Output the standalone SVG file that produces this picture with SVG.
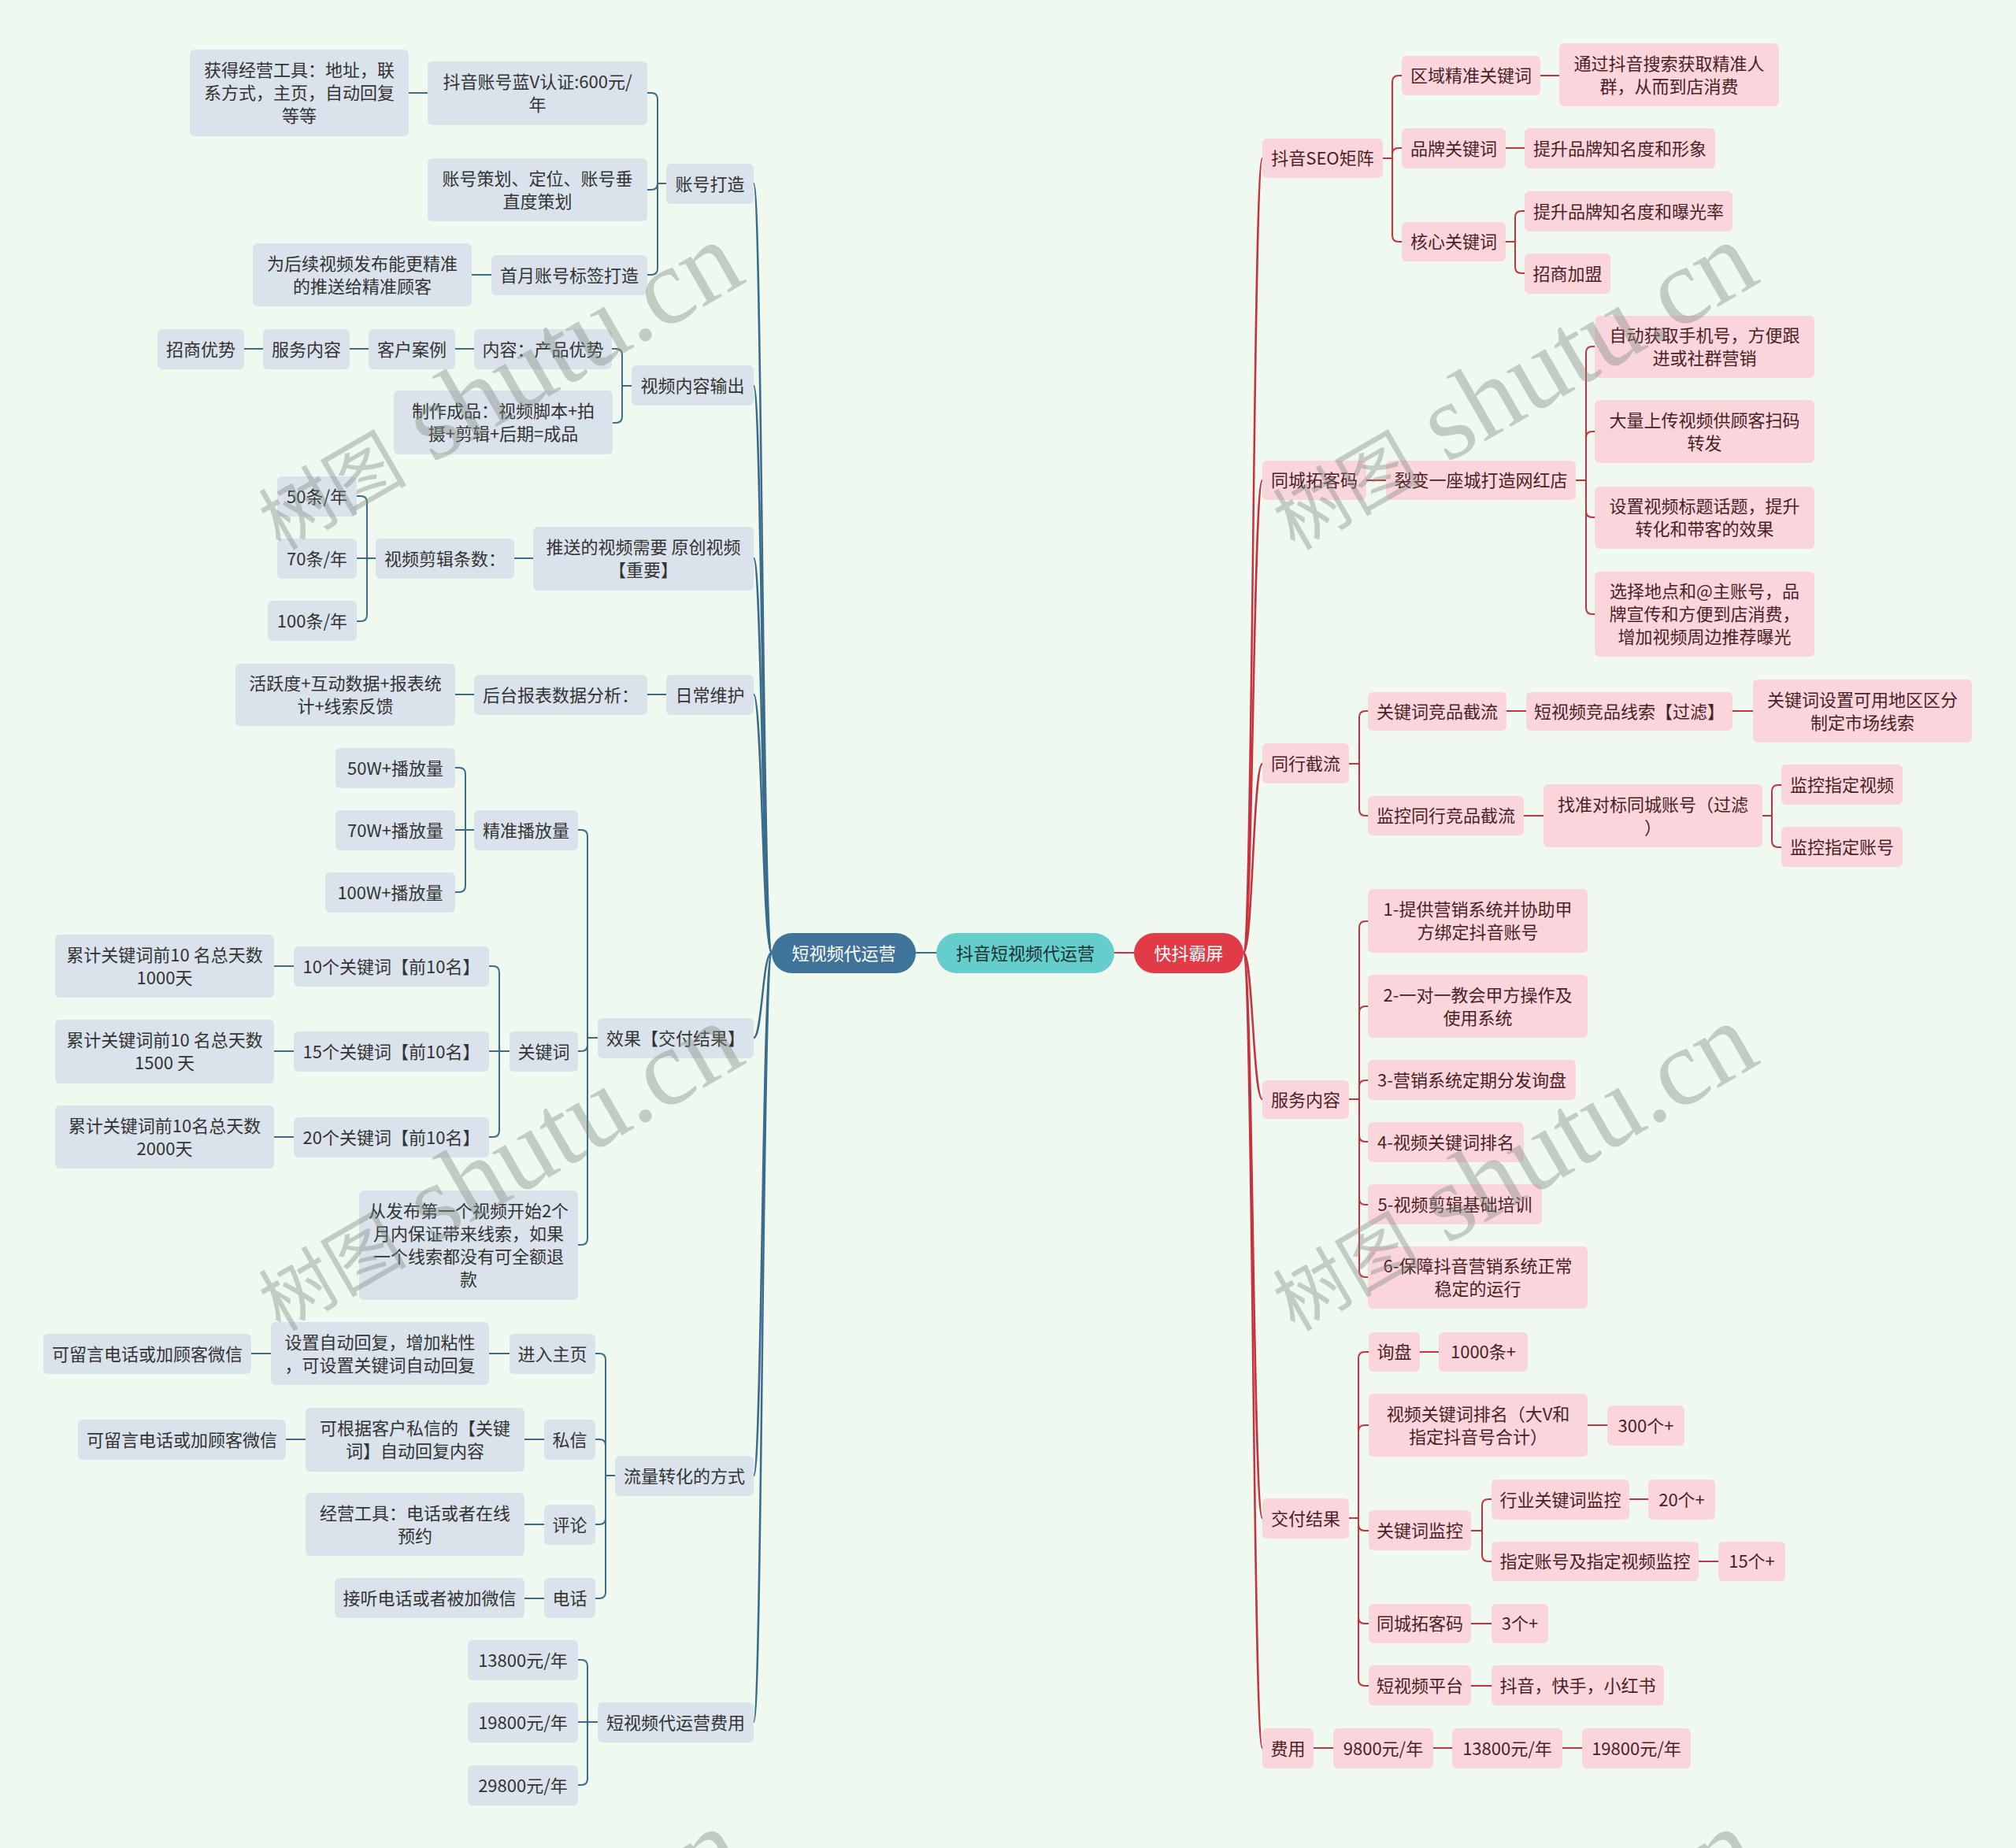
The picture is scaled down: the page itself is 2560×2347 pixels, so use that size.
<svg xmlns="http://www.w3.org/2000/svg" width="2560" height="2347" viewBox="0 0 2560 2347">
<style>
.bg{fill:#f0f9ef}
.nl rect{fill:#dae3eb}
.nr rect{fill:#fad6dc}
text{font-family:"Noto Sans CJK SC","Liberation Sans",sans-serif;font-size:22px;text-anchor:middle;dominant-baseline:central}
.nl text,.nr text,.cn text{transform:translate(0px,-2px)}
.nl text{fill:#333333}
.nr text{fill:#4a1f25}
.cl{fill:none;stroke:#3b6c8c;stroke-width:2}
.cr{fill:none;stroke:#c8323f;stroke-width:2}
.clm{fill:none;stroke:#3b6c8c;stroke-width:2.5}
.crm{fill:none;stroke:#c8323f;stroke-width:2.5}
.wm{fill:#7f8a80;opacity:0.4;text-anchor:start;dominant-baseline:alphabetic;font-family:"Liberation Serif","Noto Sans CJK SC",serif}
.wmc{font-size:94px}
.wml{font-size:138px}
</style>
<rect class="bg" x="0" y="0" width="2560" height="2347"/>

<g id="connectors">
<path class="cl" d="M1163,1210 H1189"/>
<path class="cr" d="M1415,1210 H1440"/>
<path class="clm" d="M980,1210 C968,1210 968,233 957,233"/>
<path class="clm" d="M980,1210 C968,1210 968,490 957,490"/>
<path class="clm" d="M980,1210 C968,1210 968,709 957,709"/>
<path class="clm" d="M980,1210 C968,1210 968,882 957,882"/>
<path class="clm" d="M980,1210 C968,1210 968,1318 957,1318"/>
<path class="clm" d="M980,1210 C968,1210 968,1874 957,1874"/>
<path class="clm" d="M980,1210 C968,1210 968,2187 957,2187"/>
<path class="crm" d="M1579,1210 C1591,1210 1591,201 1603,201"/>
<path class="crm" d="M1579,1210 C1591,1210 1591,610 1603,610"/>
<path class="crm" d="M1579,1210 C1591,1210 1591,970 1603,970"/>
<path class="crm" d="M1579,1210 C1591,1210 1591,1396 1603,1396"/>
<path class="crm" d="M1579,1210 C1591,1210 1591,1928 1603,1928"/>
<path class="crm" d="M1579,1210 C1591,1210 1591,2220 1603,2220"/>

<path class="cl" d="M846,233 H835 V126 Q835,118 827,118 H822"/>
<path class="cl" d="M846,233 H835 Q835,241 827,241 H822"/>
<path class="cl" d="M846,233 H835 V341 Q835,349 827,349 H822"/>
<path class="cl" d="M543,118 H519"/>
<path class="cl" d="M624,349 H599"/>
<path class="cl" d="M802,490 H790 V451 Q790,443 782,443 H777"/>
<path class="cl" d="M802,490 H790 V529 Q790,537 782,537 H778"/>
<path class="cl" d="M602,443 H578 M468,443 H444 M334,443 H310"/>
<path class="cl" d="M677,709 H653"/>
<path class="cl" d="M477,709 H466 V638 Q466,630 458,630 H453"/>
<path class="cl" d="M477,709 H453"/>
<path class="cl" d="M477,709 H466 V781 Q466,789 458,789 H453"/>
<path class="cl" d="M846,882 H822 M602,882 H578"/>
<path class="cl" d="M759,1318 H746 V1062 Q746,1054 738,1054 H734"/>
<path class="cl" d="M759,1318 H746 V1327 Q746,1335 738,1335 H734"/>
<path class="cl" d="M759,1318 H746 V1573 Q746,1581 738,1581 H734"/>
<path class="cl" d="M602,1054 H591 V983 Q591,975 583,975 H578"/>
<path class="cl" d="M602,1054 H578"/>
<path class="cl" d="M602,1054 H591 V1125 Q591,1133 583,1133 H578"/>
<path class="cl" d="M647,1335 H634 V1235 Q634,1227 626,1227 H621"/>
<path class="cl" d="M647,1335 H621"/>
<path class="cl" d="M647,1335 H634 V1436 Q634,1444 626,1444 H621"/>
<path class="cl" d="M373,1227 H348 M373,1335 H348 M373,1444 H348"/>
<path class="cl" d="M781,1874 H769 V1727 Q769,1719 761,1719 H756"/>
<path class="cl" d="M781,1874 H769 V1836 Q769,1828 761,1828 H756"/>
<path class="cl" d="M781,1874 H769 V1928 Q769,1936 761,1936 H756"/>
<path class="cl" d="M781,1874 H769 V2022 Q769,2030 761,2030 H756"/>
<path class="cl" d="M647,1719 H621 M344,1719 H319"/>
<path class="cl" d="M691,1828 H666 M388,1828 H363"/>
<path class="cl" d="M691,1936 H666"/>
<path class="cl" d="M691,2030 H666"/>
<path class="cl" d="M759,2187 H746 V2116 Q746,2108 738,2108 H734"/>
<path class="cl" d="M759,2187 H734"/>
<path class="cl" d="M759,2187 H746 V2259 Q746,2267 738,2267 H734"/>

<path class="cr" d="M1756,201 H1768 V104 Q1768,96 1776,96 H1780"/>
<path class="cr" d="M1756,201 H1768 V196 Q1768,188 1776,188 H1780"/>
<path class="cr" d="M1756,201 H1768 V299 Q1768,307 1776,307 H1780"/>
<path class="cr" d="M1956,96 H1980 M1912,188 H1936"/>
<path class="cr" d="M1912,307 H1924 V276 Q1924,268 1932,268 H1936"/>
<path class="cr" d="M1912,307 H1924 V339 Q1924,347 1932,347 H1936"/>
<path class="cr" d="M1735,610 H1760"/>
<path class="cr" d="M2001,610 H2014 V448 Q2014,440 2022,440 H2025"/>
<path class="cr" d="M2001,610 H2014 V556 Q2014,548 2022,548 H2025"/>
<path class="cr" d="M2001,610 H2014 V649 Q2014,657 2022,657 H2025"/>
<path class="cr" d="M2001,610 H2014 V772 Q2014,780 2022,780 H2025"/>
<path class="cr" d="M1713,970 H1726 V911 Q1726,903 1734,903 H1737"/>
<path class="cr" d="M1713,970 H1726 V1028 Q1726,1036 1734,1036 H1737"/>
<path class="cr" d="M1913,903 H1938 M2200,903 H2226 M1935,1036 H1960"/>
<path class="cr" d="M2238,1036 H2250 V1005 Q2250,997 2258,997 H2262"/>
<path class="cr" d="M2238,1036 H2250 V1068 Q2250,1076 2258,1076 H2262"/>
<path class="cr" d="M1713,1396 H1726 V1178 Q1726,1170 1734,1170 H1737"/>
<path class="cr" d="M1713,1396 H1726 V1286 Q1726,1278 1734,1278 H1737"/>
<path class="cr" d="M1713,1396 H1726 V1380 Q1726,1372 1734,1372 H1737"/>
<path class="cr" d="M1713,1396 H1726 V1442 Q1726,1450 1734,1450 H1737"/>
<path class="cr" d="M1713,1396 H1726 V1522 Q1726,1530 1734,1530 H1737"/>
<path class="cr" d="M1713,1396 H1726 V1614 Q1726,1622 1734,1622 H1737"/>
<path class="cr" d="M1713,1928 H1725 V1725 Q1725,1717 1733,1717 H1738"/>
<path class="cr" d="M1713,1928 H1725 V1818 Q1725,1810 1733,1810 H1738"/>
<path class="cr" d="M1713,1928 H1725 V1936 Q1725,1944 1733,1944 H1738"/>
<path class="cr" d="M1713,1928 H1725 V2054 Q1725,2062 1733,2062 H1738"/>
<path class="cr" d="M1713,1928 H1725 V2133 Q1725,2141 1733,2141 H1738"/>
<path class="cr" d="M1803,1717 H1827 M2016,1810 H2041"/>
<path class="cr" d="M1868,1944 H1882 V1912 Q1882,1904 1890,1904 H1894"/>
<path class="cr" d="M1868,1944 H1882 V1975 Q1882,1983 1890,1983 H1894"/>
<path class="cr" d="M2069,1904 H2093 M2157,1983 H2182 M1868,2062 H1894 M1868,2141 H1894"/>
<path class="cr" d="M1668,2220 H1693 M1820,2220 H1844 M1984,2220 H2009"/>
</g>

<g id="CL" class="cn"><rect x="980" y="1185" width="183" height="51" rx="25.5" fill="#3f7399"/><text x="1071.5" y="1210.5" fill="#ffffff">短视频代运营</text></g>
<g id="C0" class="cn"><rect x="1189" y="1185" width="226" height="51" rx="25.5" fill="#65cdcb"/><text x="1302" y="1210.5" fill="#1a3333">抖音短视频代运营</text></g>
<g id="CR" class="cn"><rect x="1440" y="1185" width="139" height="51" rx="25.5" fill="#e23b48"/><text x="1509.5" y="1210.5" fill="#ffffff">快抖霸屏</text></g>

<g id="L1" class="nl"><rect x="846" y="208" width="111" height="51" rx="6"/><text x="901.5" y="233.5">账号打造</text></g>
<g id="L1a" class="nl"><rect x="543" y="78" width="279" height="81" rx="6"/><text><tspan x="682.5" y="104">抖音账号蓝V认证:600元/</tspan><tspan x="682.5" y="133">年</tspan></text></g>
<g id="L1a1" class="nl"><rect x="241" y="63" width="278" height="110" rx="6"/><text><tspan x="380" y="89">获得经营工具：地址，联</tspan><tspan x="380" y="118">系方式，主页，自动回复</tspan><tspan x="380" y="147">等等</tspan></text></g>
<g id="L1b" class="nl"><rect x="543" y="201" width="279" height="80" rx="6"/><text><tspan x="682.5" y="226.5">账号策划、定位、账号垂</tspan><tspan x="682.5" y="255.5">直度策划</tspan></text></g>
<g id="L1c" class="nl"><rect x="624" y="324" width="198" height="51" rx="6"/><text x="723" y="349.5">首月账号标签打造</text></g>
<g id="L1c1" class="nl"><rect x="321" y="309" width="278" height="80" rx="6"/><text><tspan x="460" y="334.5">为后续视频发布能更精准</tspan><tspan x="460" y="363.5">的推送给精准顾客</tspan></text></g>
<g id="L2" class="nl"><rect x="802" y="464" width="155" height="51" rx="6"/><text x="879.5" y="489.5">视频内容输出</text></g>
<g id="L2a" class="nl"><rect x="602" y="418" width="175" height="51" rx="6"/><text x="689.5" y="443.5">内容：产品优势</text></g>
<g id="L2a1" class="nl"><rect x="468" y="418" width="110" height="51" rx="6"/><text x="523" y="443.5">客户案例</text></g>
<g id="L2a2" class="nl"><rect x="334" y="418" width="110" height="51" rx="6"/><text x="389" y="443.5">服务内容</text></g>
<g id="L2a3" class="nl"><rect x="200" y="418" width="110" height="51" rx="6"/><text x="255" y="443.5">招商优势</text></g>
<g id="L2b" class="nl"><rect x="500" y="496" width="278" height="81" rx="6"/><text><tspan x="639" y="522">制作成品：视频脚本+拍</tspan><tspan x="639" y="551">摄+剪辑+后期=成品</tspan></text></g>
<g id="L3" class="nl"><rect x="677" y="669" width="280" height="81" rx="6"/><text><tspan x="817" y="695">推送的视频需要 原创视频</tspan><tspan x="817" y="724">【重要】</tspan></text></g>
<g id="L3a" class="nl"><rect x="477" y="684" width="176" height="51" rx="6"/><text x="565" y="709.5">视频剪辑条数：</text></g>
<g id="L3a1" class="nl"><rect x="352" y="605" width="101" height="51" rx="6"/><text x="402.5" y="630.5">50条/年</text></g>
<g id="L3a2" class="nl"><rect x="352" y="684" width="101" height="51" rx="6"/><text x="402.5" y="709.5">70条/年</text></g>
<g id="L3a3" class="nl"><rect x="340" y="763" width="113" height="51" rx="6"/><text x="396.5" y="788.5">100条/年</text></g>
<g id="L4" class="nl"><rect x="846" y="857" width="111" height="51" rx="6"/><text x="901.5" y="882.5">日常维护</text></g>
<g id="L4a" class="nl"><rect x="602" y="857" width="220" height="51" rx="6"/><text x="712" y="882.5">后台报表数据分析：</text></g>
<g id="L4a1" class="nl"><rect x="299" y="843" width="279" height="79" rx="6"/><text><tspan x="438.5" y="868">活跃度+互动数据+报表统</tspan><tspan x="438.5" y="897">计+线索反馈</tspan></text></g>
<g id="L5" class="nl"><rect x="759" y="1293" width="198" height="51" rx="6"/><text x="858" y="1318.5">效果【交付结果】</text></g>
<g id="L5a" class="nl"><rect x="602" y="1029" width="132" height="51" rx="6"/><text x="668" y="1054.5">精准播放量</text></g>
<g id="L5a1" class="nl"><rect x="426" y="950" width="152" height="51" rx="6"/><text x="502" y="975.5">50W+播放量</text></g>
<g id="L5a2" class="nl"><rect x="426" y="1029" width="152" height="51" rx="6"/><text x="502" y="1054.5">70W+播放量</text></g>
<g id="L5a3" class="nl"><rect x="413" y="1108" width="165" height="51" rx="6"/><text x="495.5" y="1133.5">100W+播放量</text></g>
<g id="L5b" class="nl"><rect x="647" y="1310" width="87" height="51" rx="6"/><text x="690.5" y="1335.5">关键词</text></g>
<g id="L5b1" class="nl"><rect x="373" y="1202" width="248" height="51" rx="6"/><text x="497" y="1227.5">10个关键词【前10名】</text></g>
<g id="L5b1a" class="nl"><rect x="70" y="1187" width="278" height="80" rx="6"/><text><tspan x="209" y="1212.5">累计关键词前10 名总天数</tspan><tspan x="209" y="1241.5">1000天</tspan></text></g>
<g id="L5b2" class="nl"><rect x="373" y="1310" width="248" height="51" rx="6"/><text x="497" y="1335.5">15个关键词【前10名】</text></g>
<g id="L5b2a" class="nl"><rect x="70" y="1295" width="278" height="81" rx="6"/><text><tspan x="209" y="1321">累计关键词前10 名总天数</tspan><tspan x="209" y="1350">1500 天</tspan></text></g>
<g id="L5b3" class="nl"><rect x="373" y="1419" width="248" height="51" rx="6"/><text x="497" y="1444.5">20个关键词【前10名】</text></g>
<g id="L5b3a" class="nl"><rect x="70" y="1404" width="278" height="80" rx="6"/><text><tspan x="209" y="1429.5">累计关键词前10名总天数</tspan><tspan x="209" y="1458.5">2000天</tspan></text></g>
<g id="L5c" class="nl"><rect x="456" y="1512" width="278" height="139" rx="6"/><text><tspan x="595" y="1538">从发布第一个视频开始2个</tspan><tspan x="595" y="1567">月内保证带来线索，如果</tspan><tspan x="595" y="1596">一个线索都没有可全额退</tspan><tspan x="595" y="1625">款</tspan></text></g>
<g id="L6" class="nl"><rect x="781" y="1849" width="176" height="51" rx="6"/><text x="869" y="1874.5">流量转化的方式</text></g>
<g id="L6a" class="nl"><rect x="647" y="1694" width="109" height="51" rx="6"/><text x="701.5" y="1719.5">进入主页</text></g>
<g id="L6a1" class="nl"><rect x="344" y="1679" width="277" height="80" rx="6"/><text><tspan x="482.5" y="1704.5">设置自动回复，增加粘性</tspan><tspan x="482.5" y="1733.5">，可设置关键词自动回复</tspan></text></g>
<g id="L6a1a" class="nl"><rect x="55" y="1694" width="264" height="51" rx="6"/><text x="187" y="1719.5">可留言电话或加顾客微信</text></g>
<g id="L6b" class="nl"><rect x="691" y="1803" width="65" height="51" rx="6"/><text x="723.5" y="1828.5">私信</text></g>
<g id="L6b1" class="nl"><rect x="388" y="1788" width="278" height="81" rx="6"/><text><tspan x="527" y="1814">可根据客户私信的【关键</tspan><tspan x="527" y="1843">词】自动回复内容</tspan></text></g>
<g id="L6b1a" class="nl"><rect x="99" y="1803" width="264" height="51" rx="6"/><text x="231" y="1828.5">可留言电话或加顾客微信</text></g>
<g id="L6c" class="nl"><rect x="691" y="1911" width="65" height="51" rx="6"/><text x="723.5" y="1936.5">评论</text></g>
<g id="L6c1" class="nl"><rect x="388" y="1896" width="278" height="80" rx="6"/><text><tspan x="527" y="1921.5">经营工具：电话或者在线</tspan><tspan x="527" y="1950.5">预约</tspan></text></g>
<g id="L6d" class="nl"><rect x="691" y="2004" width="65" height="51" rx="6"/><text x="723.5" y="2029.5">电话</text></g>
<g id="L6d1" class="nl"><rect x="425" y="2004" width="241" height="51" rx="6"/><text x="545.5" y="2029.5">接听电话或者被加微信</text></g>
<g id="L7" class="nl"><rect x="759" y="2162" width="198" height="51" rx="6"/><text x="858" y="2187.5">短视频代运营费用</text></g>
<g id="L7a" class="nl"><rect x="594" y="2083" width="140" height="51" rx="6"/><text x="664" y="2108.5">13800元/年</text></g>
<g id="L7b" class="nl"><rect x="594" y="2162" width="140" height="51" rx="6"/><text x="664" y="2187.5">19800元/年</text></g>
<g id="L7c" class="nl"><rect x="594" y="2242" width="140" height="51" rx="6"/><text x="664" y="2267.5">29800元/年</text></g>

<g id="R1" class="nr"><rect x="1603" y="176" width="153" height="50" rx="6"/><text x="1679.5" y="201">抖音SEO矩阵</text></g>
<g id="R1a" class="nr"><rect x="1780" y="71" width="176" height="50" rx="6"/><text x="1868" y="96">区域精准关键词</text></g>
<g id="R1a1" class="nr"><rect x="1980" y="55" width="279" height="80" rx="6"/><text><tspan x="2119.5" y="80.5">通过抖音搜索获取精准人</tspan><tspan x="2119.5" y="109.5">群，从而到店消费</tspan></text></g>
<g id="R1b" class="nr"><rect x="1780" y="163" width="132" height="51" rx="6"/><text x="1846" y="188.5">品牌关键词</text></g>
<g id="R1b1" class="nr"><rect x="1936" y="163" width="242" height="51" rx="6"/><text x="2057" y="188.5">提升品牌知名度和形象</text></g>
<g id="R1c" class="nr"><rect x="1780" y="282" width="132" height="50" rx="6"/><text x="1846" y="307">核心关键词</text></g>
<g id="R1c1" class="nr"><rect x="1936" y="243" width="264" height="51" rx="6"/><text x="2068" y="268.5">提升品牌知名度和曝光率</text></g>
<g id="R1c2" class="nr"><rect x="1936" y="322" width="109" height="51" rx="6"/><text x="1990.5" y="347.5">招商加盟</text></g>
<g id="R2" class="nr"><rect x="1603" y="585" width="132" height="50" rx="6"/><text x="1669" y="610">同城拓客码</text></g>
<g id="R2a" class="nr"><rect x="1760" y="585" width="241" height="50" rx="6"/><text x="1880.5" y="610">裂变一座城打造网红店</text></g>
<g id="R2a1" class="nr"><rect x="2025" y="401" width="279" height="79" rx="6"/><text><tspan x="2164.5" y="426">自动获取手机号，方便跟</tspan><tspan x="2164.5" y="455">进或社群营销</tspan></text></g>
<g id="R2a2" class="nr"><rect x="2025" y="508" width="279" height="80" rx="6"/><text><tspan x="2164.5" y="533.5">大量上传视频供顾客扫码</tspan><tspan x="2164.5" y="562.5">转发</tspan></text></g>
<g id="R2a3" class="nr"><rect x="2025" y="618" width="279" height="79" rx="6"/><text><tspan x="2164.5" y="643">设置视频标题话题，提升</tspan><tspan x="2164.5" y="672">转化和带客的效果</tspan></text></g>
<g id="R2a4" class="nr"><rect x="2025" y="726" width="279" height="108" rx="6"/><text><tspan x="2164.5" y="751">选择地点和@主账号，品</tspan><tspan x="2164.5" y="780">牌宣传和方便到店消费，</tspan><tspan x="2164.5" y="809">增加视频周边推荐曝光</tspan></text></g>
<g id="R3" class="nr"><rect x="1603" y="944" width="110" height="51" rx="6"/><text x="1658" y="969.5">同行截流</text></g>
<g id="R3a" class="nr"><rect x="1737" y="879" width="176" height="49" rx="6"/><text x="1825" y="903.5">关键词竞品截流</text></g>
<g id="R3a1" class="nr"><rect x="1938" y="879" width="262" height="49" rx="6"/><text x="2069" y="903.5">短视频竞品线索【过滤】</text></g>
<g id="R3a1a" class="nr"><rect x="2226" y="863" width="278" height="80" rx="6"/><text><tspan x="2365" y="888.5">关键词设置可用地区区分</tspan><tspan x="2365" y="917.5">制定市场线索</tspan></text></g>
<g id="R3b" class="nr"><rect x="1737" y="1011" width="198" height="50" rx="6"/><text x="1836" y="1036">监控同行竞品截流</text></g>
<g id="R3b1" class="nr"><rect x="1960" y="996" width="278" height="80" rx="6"/><text><tspan x="2099" y="1021.5">找准对标同城账号（过滤</tspan><tspan x="2099" y="1050.5">）</tspan></text></g>
<g id="R3b1a" class="nr"><rect x="2262" y="971" width="154" height="51" rx="6"/><text x="2339" y="996.5">监控指定视频</text></g>
<g id="R3b1b" class="nr"><rect x="2262" y="1050" width="154" height="51" rx="6"/><text x="2339" y="1075.5">监控指定账号</text></g>
<g id="R4" class="nr"><rect x="1603" y="1372" width="110" height="49" rx="6"/><text x="1658" y="1396.5">服务内容</text></g>
<g id="R4a" class="nr"><rect x="1737" y="1129" width="279" height="81" rx="6"/><text><tspan x="1876.5" y="1155">1-提供营销系统并协助甲</tspan><tspan x="1876.5" y="1184">方绑定抖音账号</tspan></text></g>
<g id="R4b" class="nr"><rect x="1737" y="1238" width="279" height="80" rx="6"/><text><tspan x="1876.5" y="1263.5">2-一对一教会甲方操作及</tspan><tspan x="1876.5" y="1292.5">使用系统</tspan></text></g>
<g id="R4c" class="nr"><rect x="1737" y="1346" width="264" height="51" rx="6"/><text x="1869" y="1371.5">3-营销系统定期分发询盘</text></g>
<g id="R4d" class="nr"><rect x="1737" y="1425" width="198" height="51" rx="6"/><text x="1836" y="1450.5">4-视频关键词排名</text></g>
<g id="R4e" class="nr"><rect x="1737" y="1504" width="221" height="51" rx="6"/><text x="1847.5" y="1529.5">5-视频剪辑基础培训</text></g>
<g id="R4f" class="nr"><rect x="1737" y="1583" width="279" height="79" rx="6"/><text><tspan x="1876.5" y="1608">6-保障抖音营销系统正常</tspan><tspan x="1876.5" y="1637">稳定的运行</tspan></text></g>
<g id="R5" class="nr"><rect x="1603" y="1903" width="110" height="51" rx="6"/><text x="1658" y="1928.5">交付结果</text></g>
<g id="R5a" class="nr"><rect x="1738" y="1692" width="65" height="50" rx="6"/><text x="1770.5" y="1717">询盘</text></g>
<g id="R5a1" class="nr"><rect x="1827" y="1692" width="113" height="50" rx="6"/><text x="1883.5" y="1717">1000条+</text></g>
<g id="R5b" class="nr"><rect x="1738" y="1770" width="278" height="80" rx="6"/><text><tspan x="1877" y="1795.5">视频关键词排名（大V和</tspan><tspan x="1877" y="1824.5">指定抖音号合计）</tspan></text></g>
<g id="R5b1" class="nr"><rect x="2041" y="1785" width="98" height="51" rx="6"/><text x="2090" y="1810.5">300个+</text></g>
<g id="R5c" class="nr"><rect x="1738" y="1918" width="130" height="51" rx="6"/><text x="1803" y="1943.5">关键词监控</text></g>
<g id="R5c1" class="nr"><rect x="1894" y="1879" width="175" height="51" rx="6"/><text x="1981.5" y="1904.5">行业关键词监控</text></g>
<g id="R5c1a" class="nr"><rect x="2093" y="1879" width="85" height="51" rx="6"/><text x="2135.5" y="1904.5">20个+</text></g>
<g id="R5c2" class="nr"><rect x="1894" y="1958" width="263" height="50" rx="6"/><text x="2025.5" y="1983">指定账号及指定视频监控</text></g>
<g id="R5c2a" class="nr"><rect x="2182" y="1958" width="85" height="50" rx="6"/><text x="2224.5" y="1983">15个+</text></g>
<g id="R5d" class="nr"><rect x="1738" y="2037" width="130" height="50" rx="6"/><text x="1803" y="2062">同城拓客码</text></g>
<g id="R5d1" class="nr"><rect x="1894" y="2037" width="72" height="50" rx="6"/><text x="1930" y="2062">3个+</text></g>
<g id="R5e" class="nr"><rect x="1738" y="2115" width="130" height="51" rx="6"/><text x="1803" y="2140.5">短视频平台</text></g>
<g id="R5e1" class="nr"><rect x="1894" y="2115" width="219" height="51" rx="6"/><text x="2003.5" y="2140.5">抖音，快手，小红书</text></g>
<g id="R6" class="nr"><rect x="1603" y="2195" width="65" height="51" rx="6"/><text x="1635.5" y="2220.5">费用</text></g>
<g id="R6a" class="nr"><rect x="1693" y="2195" width="127" height="51" rx="6"/><text x="1756.5" y="2220.5">9800元/年</text></g>
<g id="R6b" class="nr"><rect x="1844" y="2195" width="140" height="51" rx="6"/><text x="1914" y="2220.5">13800元/年</text></g>
<g id="R6c" class="nr"><rect x="2009" y="2195" width="138" height="51" rx="6"/><text x="2078" y="2220.5">19800元/年</text></g>

<g id="watermarks">
<text class="wm" transform="translate(356,700) rotate(-30)"><tspan class="wmc">树图</tspan><tspan class="wml"> shutu.cn</tspan></text>
<text class="wm" transform="translate(1644,700) rotate(-30)"><tspan class="wmc">树图</tspan><tspan class="wml"> shutu.cn</tspan></text>
<text class="wm" transform="translate(356,1692) rotate(-30)"><tspan class="wmc">树图</tspan><tspan class="wml"> shutu.cn</tspan></text>
<text class="wm" transform="translate(1644,1692) rotate(-30)"><tspan class="wmc">树图</tspan><tspan class="wml"> shutu.cn</tspan></text>
<text class="wm" transform="translate(356,2715) rotate(-30)"><tspan class="wmc">树图</tspan><tspan class="wml"> shutu.cn</tspan></text>
<text class="wm" transform="translate(1644,2715) rotate(-30)"><tspan class="wmc">树图</tspan><tspan class="wml"> shutu.cn</tspan></text>
</g>
</svg>
